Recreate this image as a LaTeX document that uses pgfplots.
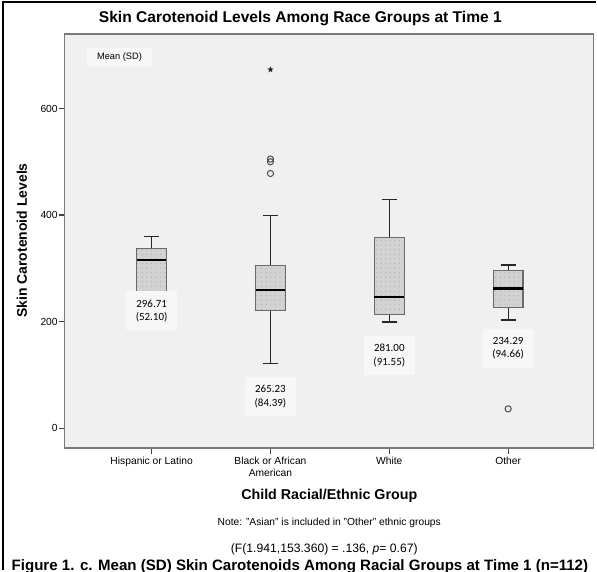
\documentclass[border=0pt]{standalone}
\usepackage{fontspec}
\setmainfont{Liberation Sans}
\newfontfamily\calibri{Carlito}
\usepackage{pgfplots}
\pgfplotsset{compat=1.18}
\usetikzlibrary{patterns}

\definecolor{plotbg}{HTML}{F0F0F0}
\definecolor{boxfill}{HTML}{D2D2D2}
\definecolor{boxedge}{HTML}{6A6A6A}
\definecolor{framegray}{HTML}{7A7A7A}
\definecolor{labelbg}{HTML}{F7F7F7}

\pgfdeclarepatternformonly{spssdots}{\pgfqpoint{-1pt}{-1pt}}{\pgfqpoint{1pt}{1pt}}{\pgfqpoint{4.6pt}{4.6pt}}%
{\pgfpathcircle{\pgfqpoint{0pt}{0pt}}{0.55pt}\pgfusepath{fill}}

\pgfdeclareplotmark{fstar}{%
  \pgfpathmoveto{\pgfqpoint{0pt}{3.4pt}}%
  \pgfpathlineto{\pgfqpoint{-0.823pt}{1.133pt}}%
  \pgfpathlineto{\pgfqpoint{-3.234pt}{1.051pt}}%
  \pgfpathlineto{\pgfqpoint{-1.331pt}{-0.433pt}}%
  \pgfpathlineto{\pgfqpoint{-1.998pt}{-2.751pt}}%
  \pgfpathlineto{\pgfqpoint{0pt}{-1.4pt}}%
  \pgfpathlineto{\pgfqpoint{1.998pt}{-2.751pt}}%
  \pgfpathlineto{\pgfqpoint{1.331pt}{-0.433pt}}%
  \pgfpathlineto{\pgfqpoint{3.234pt}{1.051pt}}%
  \pgfpathlineto{\pgfqpoint{0.823pt}{1.133pt}}%
  \pgfpathclose\pgfusepathqfill}

\begin{document}
\begin{tikzpicture}
\fill[white] (0pt,0pt) rectangle (597pt,571pt);
\begin{axis}[
  at={(65pt,122pt)}, anchor=south west,
  scale only axis, width=530pt, height=415pt,
  xmin=0.27, xmax=4.72, ymin=-37.5, ymax=740,
  axis background/.style={fill=plotbg},
  axis line style={framegray, line width=1.2pt},
  xtick={1,2,3,4},
  xticklabels={Hispanic or Latino, {Black or African\\American}, White, Other},
  xticklabel style={align=center, font=\fontsize{10.3}{11.5}\selectfont, inner sep=3pt},
  ytick={0,200,400,600},
  yticklabel style={font=\fontsize{10.3}{12}\selectfont, inner sep=1pt},
  tick align=outside, xtick pos=bottom, ytick pos=left,
  major tick length=6pt,
  tick style={black!75, line width=1.1pt},
  /pgf/number format/assume math mode=true,
  clip=false,
  boxst/.style={draw=boxedge, line width=1.1pt, pattern=spssdots, pattern color=black!35, preaction={fill=boxfill}},
  whisk/.style={black!85, line width=1.3pt},
  med/.style={black, line width=2.2pt},
]
% ---- Hispanic or Latino: Q1 256, median 316, Q3 337, whiskers 256-360
\addplot[whisk] coordinates {(1,337) (1,360)};
\addplot[whisk] coordinates {(0.9375,360) (1.0625,360)};
\addplot[boxst] coordinates {(0.875,256) (1.125,256) (1.125,337) (0.875,337)} --cycle;
\addplot[med] coordinates {(0.875,316) (1.125,316)};
% ---- Black or African American: Q1 221, median 259, Q3 306, whiskers 121-399
\addplot[whisk] coordinates {(2,306) (2,399)};
\addplot[whisk] coordinates {(1.9375,399) (2.0625,399)};
\addplot[whisk] coordinates {(2,221) (2,121)};
\addplot[whisk] coordinates {(1.9375,121) (2.0625,121)};
\addplot[boxst] coordinates {(1.875,221) (2.125,221) (2.125,306) (1.875,306)} --cycle;
\addplot[med] coordinates {(1.875,259) (2.125,259)};
% ---- White: Q1 214, median 246, Q3 358, whiskers 199-429
\addplot[whisk] coordinates {(3,358) (3,429)};
\addplot[whisk] coordinates {(2.9375,429) (3.0625,429)};
\addplot[whisk] coordinates {(3,214) (3,199)};
\addplot[whisk] coordinates {(2.9375,199) (3.0625,199)};
\addplot[boxst] coordinates {(2.875,214) (3.125,214) (3.125,358) (2.875,358)} --cycle;
\addplot[med] coordinates {(2.875,246) (3.125,246)};
% ---- Other: Q1 226, median 262, Q3 296, whiskers 203-306
\addplot[whisk] coordinates {(4,296) (4,306)};
\addplot[whisk] coordinates {(3.9375,306) (4.0625,306)};
\addplot[whisk] coordinates {(4,226) (4,203)};
\addplot[whisk] coordinates {(3.9375,203) (4.0625,203)};
\addplot[boxst] coordinates {(3.875,226) (4.125,226) (4.125,296) (3.875,296)} --cycle;
\addplot[med] coordinates {(3.875,262) (4.125,262)};
% outliers
\addplot[only marks, mark=o, mark size=3.1pt, mark options={draw=black!70, line width=1pt}]
  coordinates {(2,505) (2,500) (2,478) (4,36)};
\addplot[only marks, mark=fstar, mark options={fill=black!85, draw=none}]
  coordinates {(2,673)};
% mean (SD) labels
\node[fill=labelbg, minimum width=51pt, minimum height=39pt, align=center, inner sep=0pt,
  font=\calibri\fontsize{11}{13.5}\selectfont] at (axis cs:1,220) {296.71\\(52.10)};
\node[fill=labelbg, minimum width=51pt, minimum height=39pt, align=center, inner sep=0pt,
  font=\calibri\fontsize{11}{13.5}\selectfont] at (axis cs:2,59) {265.23\\(84.39)};
\node[fill=labelbg, minimum width=51pt, minimum height=39pt, align=center, inner sep=0pt,
  font=\calibri\fontsize{11}{13.5}\selectfont] at (axis cs:3,136) {281.00\\(91.55)};
\node[fill=labelbg, minimum width=51pt, minimum height=39pt, align=center, inner sep=0pt,
  font=\calibri\fontsize{11}{13.5}\selectfont] at (axis cs:4,150) {234.29\\(94.66)};
\node[fill=labelbg, minimum width=65pt, minimum height=18pt, inner sep=0pt,
  font=\fontsize{9.3}{11}\selectfont] at (axis cs:0.73,697) {Mean (SD)};
\end{axis}
\node[font=\bfseries\fontsize{15.6}{18}\selectfont] at (301pt,552pt) {Skin Carotenoid Levels Among Race Groups at Time 1};
\node[rotate=90, font=\bfseries\fontsize{14}{16}\selectfont] at (22pt,330pt) {Skin Carotenoid Levels};
\node[font=\bfseries\fontsize{14.3}{17}\selectfont] at (330pt,74pt) {Child Racial/Ethnic Group};
\node[font=\fontsize{10.3}{12}\selectfont] at (330pt,47pt) {Note: "Asian" is included in "Other" ethnic groups};
\node[font=\fontsize{12.2}{14}\selectfont] at (325pt,20.5pt) {(F(1.941,153.360) = .136, \textit{p}= 0.67)};
\node[anchor=base west, inner sep=0pt, font=\bfseries\fontsize{15.1}{18}\selectfont] at (11pt,0pt) {\smash{\rlap{\raisebox{-1pt}{Figure 1. c. Mean (SD) Skin Carotenoids Among Racial Groups at Time 1 (n=112)}}}};
\draw[black, line width=2.6pt] (3pt,0pt) -- (3pt,569pt) -- (597pt,569pt);
\useasboundingbox (0pt,0pt) rectangle (597pt,571pt);
\end{tikzpicture}
\end{document}
